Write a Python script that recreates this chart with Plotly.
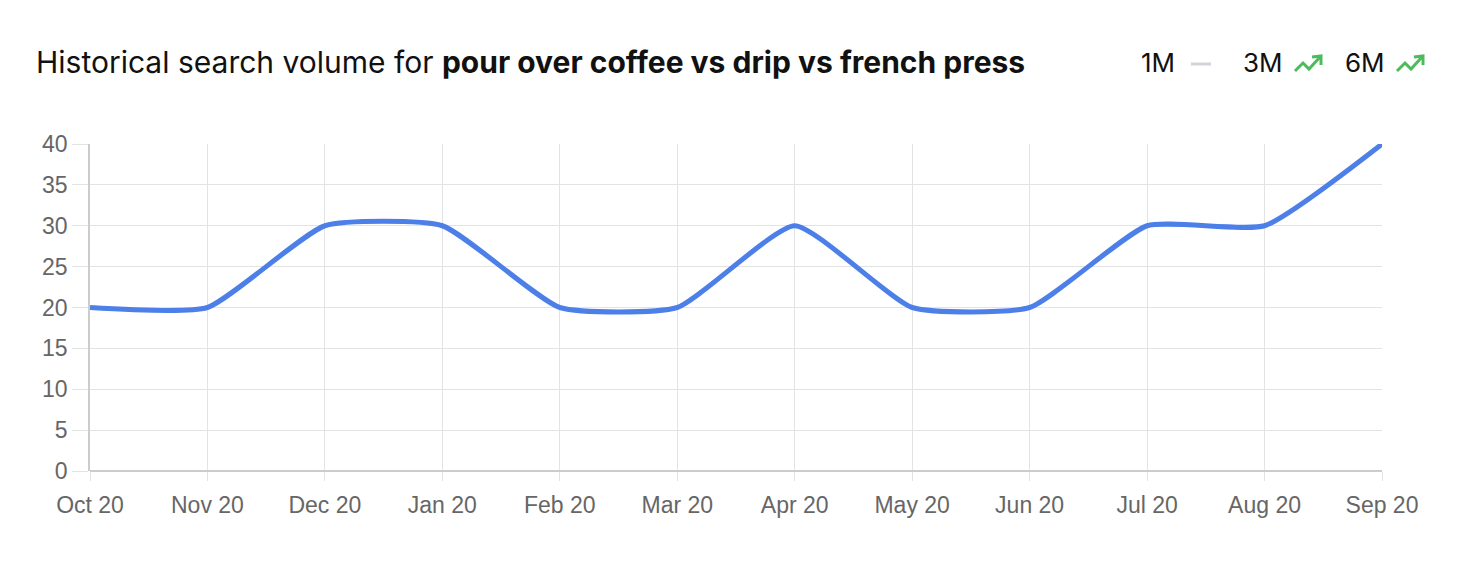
import plotly.graph_objects as go

months = ["Oct 20", "Nov 20", "Dec 20", "Jan 20", "Feb 20", "Mar 20",
          "Apr 20", "May 20", "Jun 20", "Jul 20", "Aug 20", "Sep 20"]
volume = [20, 20, 30, 30, 20, 20, 30, 20, 20, 30, 30, 40]
y_ticks = [0, 5, 10, 15, 20, 25, 30, 35, 40]
period_labels = ["1M", "3M", "6M"]

W, H = 1462, 564
L, R, T, B = 90, 1382, 144, 471

def px(x):
    return (x - L) / (R - L)

def py(y):
    return (B - y) / (B - T)

fig = go.Figure()
fig.add_trace(go.Scatter(
    x=months, y=volume, mode="lines",
    line=dict(color="#4d7fe8", width=5, shape="spline", smoothing=0.5),
    hoverinfo="skip", showlegend=False, cliponaxis=False,
))

grid = "#e3e3e3"
tick_font = dict(family="Liberation Sans, Arial, sans-serif", size=23, color="#666666")
fig.update_xaxes(
    type="category", range=[0, len(months) - 1],
    showgrid=True, gridcolor=grid, gridwidth=1,
    ticks="outside", ticklen=9, tickcolor=grid,
    showline=False, zeroline=False,
    tickfont=tick_font,
    ticklabelstandoff=4,
)
fig.update_yaxes(
    range=[0, 40], tickvals=y_ticks,
    showgrid=True, gridcolor=grid, gridwidth=1,
    ticks="outside", ticklen=16, tickcolor=grid,
    zeroline=True, zerolinecolor="#cccccc", zerolinewidth=2,
    showline=True, linecolor="#cccccc", linewidth=1.5,
    tickfont=tick_font,
    ticklabelstandoff=0,
)

annotations = [
    dict(text="Historical search volume for <b>pour over coffee vs drip vs french press</b>",
         xref="paper", yref="paper", x=px(34), y=py(62), xanchor="left", yanchor="middle",
         showarrow=False, font=dict(family="Inter, Liberation Sans, sans-serif", size=30, color="#111111")),
]
label_x = [1139, 1241, 1343]
for lab, lx in zip(period_labels, label_x):
    annotations.append(dict(text=lab, xref="paper", yref="paper", x=px(lx), y=py(63),
                            xanchor="left", yanchor="middle", showarrow=False,
                            font=dict(family="Inter, Liberation Sans, sans-serif", size=26, color="#111111")))

shapes = [
    dict(type="line", xref="paper", yref="paper", x0=px(1191), x1=px(1211), y0=py(64), y1=py(64),
         line=dict(color="#d1d5db", width=3)),
]
for ox in [1294, 1396]:
    pts = [(ox + 1, 71), (ox + 9, 63), (ox + 15, 69), (ox + 26, 57)]
    path = "M " + " L ".join(f"{px(x)},{py(y)}" for x, y in pts)
    shapes.append(dict(type="path", xref="paper", yref="paper", path=path,
                       line=dict(color="#4cbb5c", width=3)))
    head = [(ox + 18, 57), (ox + 27, 56), (ox + 27, 65)]
    path2 = "M " + " L ".join(f"{px(x)},{py(y)}" for x, y in head)
    shapes.append(dict(type="path", xref="paper", yref="paper", path=path2,
                       line=dict(color="#4cbb5c", width=3)))

fig.update_layout(
    width=W, height=H,
    margin=dict(l=L, r=W - R, t=T, b=H - B),
    paper_bgcolor="white", plot_bgcolor="white",
    annotations=annotations, shapes=shapes,
    showlegend=False,
)

fig.write_html("out.html")
